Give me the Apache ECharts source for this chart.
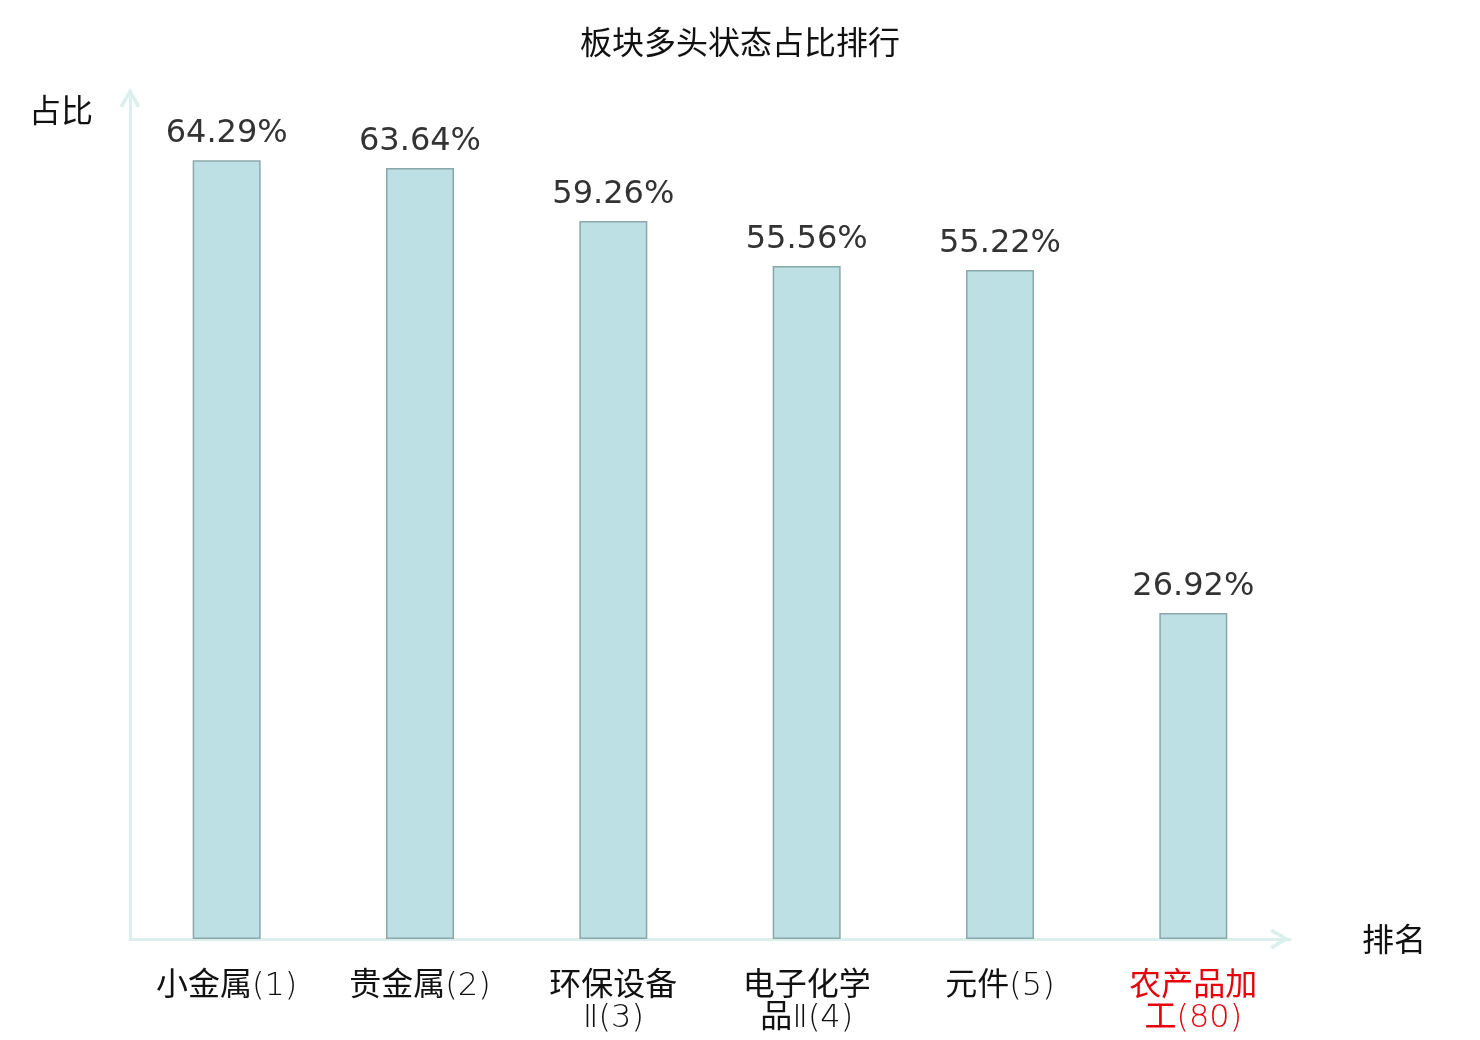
<!DOCTYPE html>
<html>
<head>
<meta charset="utf-8">
<script src="https://cdn.jsdelivr.net/npm/echarts@6/dist/echarts.min.js"></script>
<style>html,body{margin:0;padding:0;background:#fff;}#main{width:1480px;height:1040px;}</style>
</head>
<body>
<div id="main"></div>
<script>
const titleText = '板块多头状态占比排行';
const sectors = ['小金属', '贵金属', '环保设备Ⅱ', '电子化学品Ⅱ', '元件', '农产品加工'];
const ranks = [1, 2, 3, 4, 5, 80];
const values = [64.29, 63.64, 59.26, 55.56, 55.22, 26.92];
const highlightIndex = 5;

const categories = sectors.map((s, i) => s + '(' + ranks[i] + ')');

const chart = echarts.init(document.getElementById('main'));
const chevron = 'path://M10,0 L20,17.2 L17,19.5 L10,6.6 L3,19.5 L0,17.2 Z';
const axisColor = '#dbf0ec';
const cjkFont = 'Noto Sans CJK SC';
const latinFont = 'DejaVu Sans';

function richLabel(v, i) {
  const s = i === highlightIndex ? 'r' : '';
  const p = v.indexOf('(');
  const name = v.slice(0, p);
  const tail = v.slice(p);
  let lines = [];
  if (name.length > 4) lines = [name.slice(0, 4), name.slice(4) + tail];
  else lines = [name + tail];
  return lines.map(line => {
    let out = '', buf = '', cjk = null;
    for (const ch of line) {
      const isC = /[\u4e00-\u9fff]/.test(ch);
      if (cjk !== null && isC !== cjk) { out += '{' + (cjk ? 'c' : 'l') + s + '|' + buf + '}'; buf = ''; }
      cjk = isC; buf += ch;
    }
    if (buf) out += '{' + (cjk ? 'c' : 'l') + s + '|' + buf + '}';
    return out;
  }).join('\n');
}

const base = { fontSize: 32, lineHeight: 32 };
const latinShift = { padding: [8, 0, 0, 0] };
chart.setOption({
  animation: false,
  title: {
    text: titleText,
    left: 'center',
    top: 21,
    textStyle: { fontFamily: cjkFont, fontSize: 32, fontWeight: 'normal', color: '#111' }
  },
  grid: { left: 130, right: 190, top: 91, bottom: 101 },
  xAxis: {
    type: 'category',
    data: categories,
    name: '排名',
    nameLocation: 'end',
    nameGap: 72,
    nameTextStyle: { fontFamily: cjkFont, fontSize: 32, color: '#111', verticalAlign: 'middle' },
    axisLine: { show: true, symbol: ['none', chevron], symbolSize: [22, 20], symbolOffset: [0, -10], lineStyle: { color: axisColor, width: 3 } },
    axisTick: { show: false },
    axisLabel: {
      margin: 28,
      fontSize: 32,
      lineHeight: 32,
      interval: 0,
      formatter: richLabel,
      rich: {
        c: Object.assign({ fontFamily: cjkFont, color: '#111' }, base),
        l: Object.assign({ fontFamily: latinFont, fontWeight: 200, color: '#111' }, base, latinShift),
        cr: Object.assign({ fontFamily: cjkFont, color: '#e8000b' }, base),
        lr: Object.assign({ fontFamily: latinFont, fontWeight: 200, color: '#e8000b' }, base, latinShift)
      }
    },
    splitLine: { show: false }
  },
  yAxis: {
    type: 'value',
    min: 0,
    max: 70,
    name: '占比',
    nameLocation: 'end',
    nameGap: 0,
    nameTextStyle: { fontFamily: cjkFont, fontSize: 32, color: '#111', align: 'right', padding: [3, 37, 0, 0], verticalAlign: 'top' },
    axisLine: { show: true, symbol: ['none', chevron], symbolSize: [22, 20], symbolOffset: [0, -7], lineStyle: { color: axisColor, width: 3 } },
    axisTick: { show: false },
    axisLabel: { show: false },
    splitLine: { show: false }
  },
  series: [{
    type: 'bar',
    data: values,
    barWidth: 68,
    itemStyle: { color: '#bce0e3', borderColor: '#8aa8a9', borderWidth: 1.5 },
    label: {
      show: true,
      position: 'top',
      distance: 10,
      fontFamily: latinFont,
      fontSize: 32,
      color: '#333',
      formatter: p => p.value.toFixed(2) + '%'
    }
  }]
});
</script>
</body>
</html>
